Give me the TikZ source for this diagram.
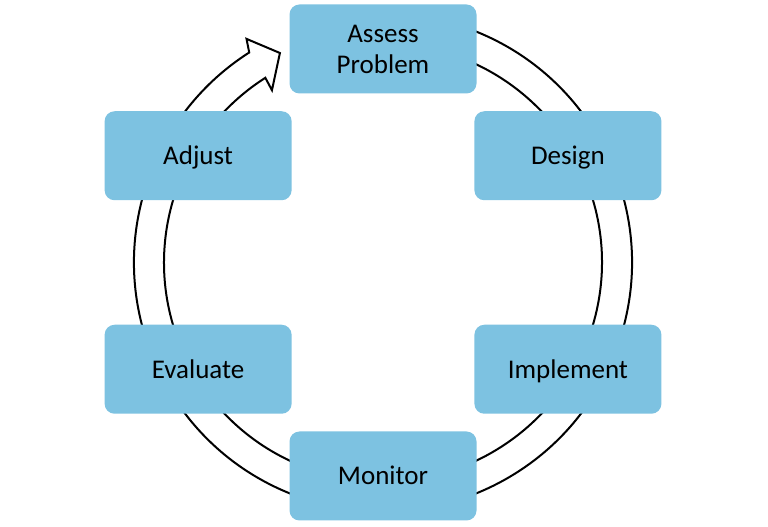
\documentclass[tikz,border=0pt]{standalone}
\usepackage{fontspec}
\setmainfont{Carlito}
\usetikzlibrary{calc}
\definecolor{boxblue}{RGB}{125,194,225}
\begin{document}
\begin{tikzpicture}[x=1pt,y=1pt,
  stage/.style={fill=boxblue, draw=none, rounded corners=10pt, minimum width=187pt, minimum height=89pt,
    align=center, font=\fontsize{27}{31}\selectfont, text=black, inner sep=0pt},
  oneline/.style={stage, text height=25pt, text depth=7pt},
  ring/.style={draw=black, line width=2pt, fill=white, line join=miter}]
\useasboundingbox[fill=white] (0,0) rectangle (768,527);
\coordinate (C) at (383,264.5);
\begin{scope}[shift={(C)}]
\draw[ring] (70:249pt) arc[start angle=70, end angle=-237.5, radius=249pt]
  -- (-238.6:262pt) -- (-243.8:233.5pt) -- (-237.2:205pt) -- (-237.5:219pt)
  arc[start angle=-237.5, end angle=70, radius=219pt] -- cycle;
\end{scope}
\node[stage] (assess) at ($(C)+(90:213.5pt)$) {Assess\\Problem};
\node[oneline] (design) at ($(C)+(30:213.5pt)$) {Design};
\node[oneline] (implement) at ($(C)+(-30:213.5pt)$) {Implement};
\node[oneline] (monitor) at ($(C)+(-90:213.5pt)$) {Monitor};
\node[oneline] (evaluate) at ($(C)+(210:213.5pt)$) {Evaluate};
\node[oneline] (adjust) at ($(C)+(150:213.5pt)$) {Adjust};
\end{tikzpicture}
\end{document}
